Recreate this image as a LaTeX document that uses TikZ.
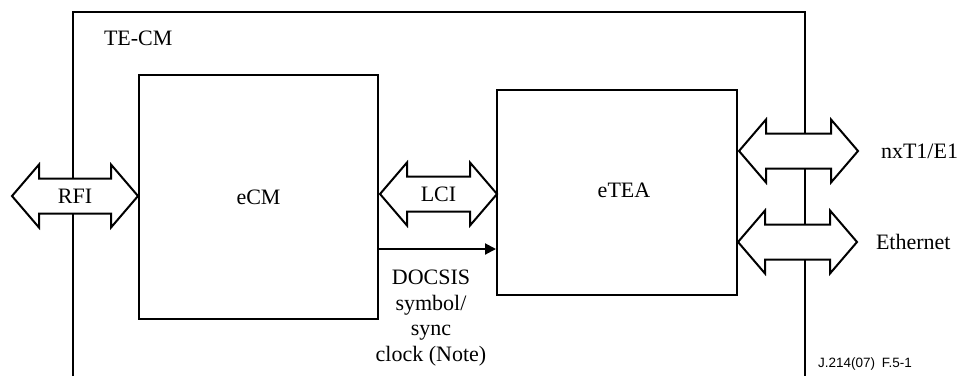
\documentclass[tikz,border=0pt]{standalone}
\usepackage{fontspec}
\setmainfont{Liberation Serif}
\newfontfamily\labelsans{Liberation Sans}
\usetikzlibrary{arrows.meta}
\newcommand\DArrow[4]{% name, x1, x2, y
  \draw[arrowshape] (#2,#4) -- ++(27,-31.5) -- ++(0,14) -- (#3-27,#4-17.5) -- ++(0,-14) -- (#3,#4)
    -- (#3-27,#4+31.5) -- ++(0,-14) -- (#2+27,#4+17.5) -- ++(0,14) -- cycle;
  \coordinate (#1) at ({(#2+#3)/2},#4);
}
\begin{document}
\begin{tikzpicture}[x=1pt,y=-1pt,
  line width=2pt,
  box/.style={draw,rectangle,inner sep=0pt,font=\fontsize{22}{25.5}\selectfont},
  arrowshape/.style={draw,fill=white,line join=miter},
  lbl/.style={inner sep=0pt,font=\fontsize{22}{25.5}\selectfont}]
\useasboundingbox (0,0) rectangle (960,376);
% outer TE-CM frame (open at the bottom)
\coordinate (tl) at (73,376);
\coordinate (tr) at (805,376);
\draw (tl) -- (73,12) -- (805,12) -- (tr);
\node[lbl,anchor=west] (tecm) at (103,38) {TE-CM};
% blocks
\node[box,minimum width=239pt,minimum height=244pt] (ecm) at (258.5,197) {eCM};
\node[box,minimum width=240pt,minimum height=205pt] (etea) at (617,192.5) {};
\node[lbl] (eteatxt) at (624,190) {eTEA};
% interface arrows
\DArrow{rfi}{12}{138}{196}
\node[lbl] (rfitxt) at (rfi) {RFI};
\DArrow{lci}{380}{497}{194}
\node[lbl] (lcitxt) at (lci) {LCI};
\DArrow{nxt}{739}{858}{151}
\node[lbl,anchor=west] (nxttxt) at (880,151) {nxT1/E1};
\DArrow{eth}{738}{857}{242}
\node[lbl,anchor=west] (ethtxt) at (875,242) {Ethernet};
% clock signal
\coordinate (clk) at (0,249);
\draw[-{Triangle[length=11pt,width=11pt]}] (ecm.east |- clk) -- (etea.west |- clk);
\node[lbl,align=center] (docsis) at (431,318) {DOCSIS\\symbol/\\sync\\clock (Note)};
% figure id
\node[inner sep=0pt,anchor=west,font=\labelsans\fontsize{13.5}{15}\selectfont] (figid) at (817,364) {J.214(07)\enspace F.5-1};
\end{tikzpicture}
\end{document}
